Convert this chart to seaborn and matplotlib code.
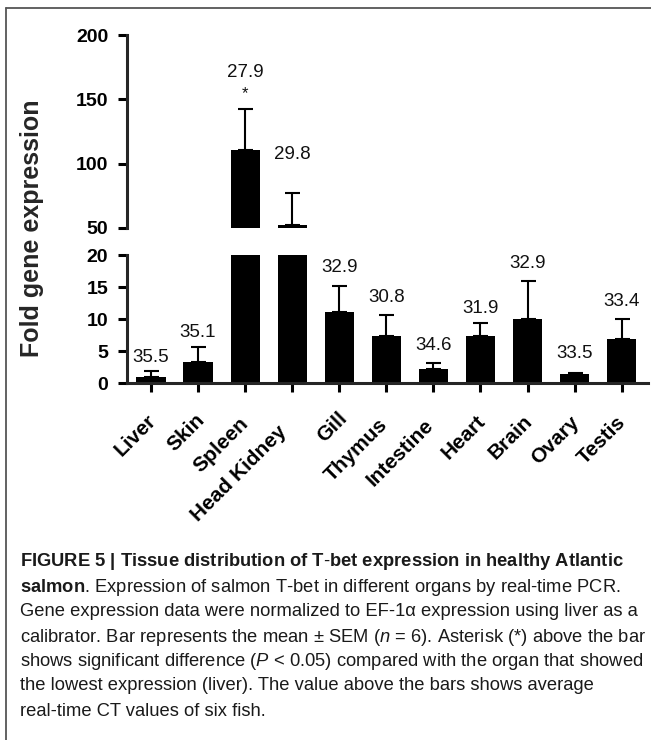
import numpy as np
import pandas as pd
import matplotlib
matplotlib.use("Agg")
import matplotlib.pyplot as plt
import seaborn as sns
from matplotlib.lines import Line2D
from matplotlib.transforms import ScaledTranslation

# ---------------- data ----------------
tissues = ["Liver", "Skin", "Spleen", "Head Kidney", "Gill", "Thymus",
           "Intestine", "Heart", "Brain", "Ovary", "Testis"]
fold_mean = [1.0, 3.3, 110.3, 52.5, 11.1, 7.3, 2.2, 7.3, 10.0, 1.35, 6.9]
fold_sem = [0.8, 2.4, 32.2, 24.7, 4.1, 3.3, 1.0, 2.0, 6.0, 0.15, 3.05]
ct_values = ["35.5", "35.1", "27.9", "29.8", "32.9", "30.8",
             "34.6", "31.9", "32.9", "33.5", "33.4"]
significant = ["Spleen"]
top_ticks = [50, 100, 150, 200]
bottom_ticks = [0, 5, 10, 15, 20]

caption_lines = [
    r"$\mathbf{FIGURE\ 5\ |\ Tissue\ distribution\ of\ T\text{-}bet\ expression\ in\ healthy\ Atlantic}$",
    r"$\mathbf{salmon}$. Expression of salmon T-bet in different organs by real-time PCR.",
    "Gene expression data were normalized to EF-1\u03b1 expression using liver as a",
    r"calibrator. Bar represents the mean $\pm$ SEM ($n$ = 6). Asterisk (*) above the bar",
    r"shows significant difference ($P$ < 0.05) compared with the organ that showed",
    "the lowest expression (liver). The value above the bars shows average",
    "real-time CT values of six fish.",
]

# label offsets above error bars (points)
ct_offset = [10, 10, 26, 28, 13, 13, 12, 11, 12, 14, 13]

# ---------------- style ----------------
sns.set_theme(style="ticks")
plt.rcParams["font.family"] = ["Liberation Sans", "DejaVu Sans"]
plt.rcParams["mathtext.fontset"] = "custom"
plt.rcParams["mathtext.rm"] = "Liberation Sans"
plt.rcParams["mathtext.it"] = "Liberation Sans:italic"
plt.rcParams["mathtext.bf"] = "Liberation Sans:bold"

W, H = 651, 740
fig = plt.figure(figsize=(W / 100, H / 100), dpi=100)


def px(x0, y0, x1, y1):
    return [x0 / W, 1 - y1 / H, (x1 - x0) / W, (y1 - y0) / H]


ax_top = fig.add_axes(px(127, 35, 648, 228))
ax_bot = fig.add_axes(px(127, 255, 648, 383))

df = pd.DataFrame({"tissue": tissues, "fold": fold_mean, "sem": fold_sem})
n = len(tissues)
xs = np.arange(n)

for ax in (ax_top, ax_bot):
    sns.barplot(data=df, x="tissue", y="fold", ax=ax, color="black",
                saturation=1, width=0.62, errorbar=None, linewidth=0)
    ax.errorbar(xs, df["fold"], yerr=[np.zeros(n), df["sem"]], fmt="none",
                ecolor="black", elinewidth=1.5, capsize=5.4, capthick=1.5)
    ax.set_xlim(-0.51, 10.56)
    ax.set_xlabel("")
    ax.set_ylabel("")
    for s in ("top", "right"):
        ax.spines[s].set_visible(False)
    for s in ("left", "bottom"):
        ax.spines[s].set_linewidth(2.2)
    ax.tick_params(axis="both", width=2.2, length=6.5, labelsize=14,
                   color="black", labelcolor="black", pad=7)
    ax.set_facecolor("none")

ax_top.set_ylim(50, 200)
ax_top.set_yticks(top_ticks)
ax_top.spines["bottom"].set_visible(False)
ax_top.tick_params(axis="x", bottom=False, labelbottom=False)

ax_bot.set_ylim(0, 20)
ax_bot.set_yticks(bottom_ticks)
ax_bot.set_xticks(xs)
ax_bot.set_xticklabels(tissues, rotation=45, ha="right",
                       rotation_mode="anchor")
ax_bot.tick_params(axis="x", pad=10, labelsize=15)

for ax in (ax_top, ax_bot):
    for lbl in ax.get_yticklabels() + ax.get_xticklabels():
        lbl.set_fontweight("bold")

# CT value labels and significance marks
for i, (name, m, s, ct) in enumerate(zip(tissues, fold_mean, fold_sem, ct_values)):
    top = m + s
    ax = ax_top if top > 20 else ax_bot
    ax.annotate(ct, xy=(i, top), xytext=(0, ct_offset[i]),
                textcoords="offset points", ha="center", va="center",
                fontsize=13.5, color="#111111")
    if name in significant:
        ax.annotate("*", xy=(i, top), xytext=(0, 11),
                    textcoords="offset points", ha="center", va="center",
                    fontsize=12, color="#111111")

fig.text(32 / W, 1 - 228 / H, "Fold gene expression", rotation=90,
         ha="center", va="center", fontsize=18, fontweight="bold")

# frame
fig.add_artist(Line2D([6 / W, 1], [1 - 8 / H, 1 - 8 / H],
                      transform=fig.transFigure, color="#555555", lw=1.3))
fig.add_artist(Line2D([6 / W, 6 / W], [0, 1 - 8 / H],
                      transform=fig.transFigure, color="#555555", lw=1.3))

# caption
cap_y = [562, 587, 612, 637, 661, 686, 711]
for txt, yy in zip(caption_lines, cap_y):
    fig.text(20 / W, 1 - yy / H, txt, ha="left", va="center", fontsize=13.2,
             color="#1a1a1a")

# shift rotated tick labels along their direction proportionally to length
fig.canvas.draw()
renderer = fig.canvas.get_renderer()
for lbl in ax_bot.get_xticklabels():
    w, h, d = renderer.get_text_width_height_descent(
        lbl.get_text(), lbl.get_fontproperties(), ismath=False)
    shift = 0.2 * w
    dx = -shift * np.cos(np.pi / 4) + 3
    dy = -shift * np.sin(np.pi / 4) + 2
    lbl.set_transform(lbl.get_transform() +
                      ScaledTranslation(dx / fig.dpi, dy / fig.dpi,
                                        fig.dpi_scale_trans))

fig.savefig("out.png", dpi=100)
